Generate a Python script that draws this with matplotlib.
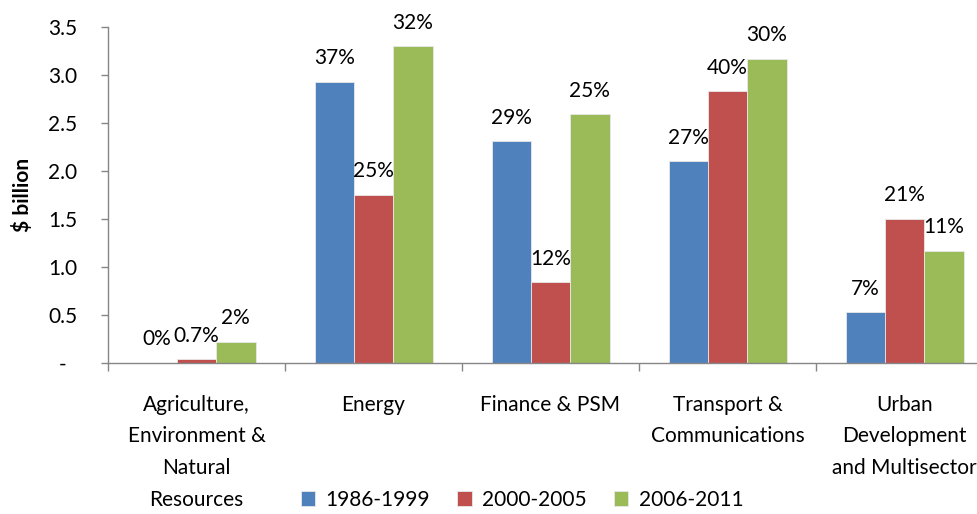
import matplotlib.pyplot as plt
import numpy as np

plt.rcParams['font.family'] = ['Lato', 'DejaVu Sans']

categories = ['Agriculture,\nEnvironment &\nNatural\nResources', 'Energy',
              'Finance & PSM', 'Transport &\nCommunications',
              'Urban\nDevelopment\nand Multisector']
series = ['1986-1999', '2000-2005', '2006-2011']
v_1986 = [0.0, 2.93, 2.31, 2.10, 0.53]
v_2000 = [0.04, 1.75, 0.84, 2.83, 1.50]
v_2006 = [0.22, 3.30, 2.59, 3.17, 1.17]
pct_1986 = ['0%', '37%', '29%', '27%', '7%']
pct_2000 = ['0.7%', '25%', '12%', '40%', '21%']
pct_2006 = ['2%', '32%', '25%', '30%', '11%']

colors = ['#4F81BD', '#C0504D', '#9BBB59']
fs = 15

fig = plt.figure(figsize=(9.77, 5.14), dpi=100)
W, H = 977, 514
ax = fig.add_axes([108 / W, (H - 363) / H, (993 - 108) / W, (363 - 27) / H])

x = np.arange(len(categories))
w = 1 / 4.5
for i, (vals, pcts) in enumerate(zip([v_1986, v_2000, v_2006],
                                     [pct_1986, pct_2000, pct_2006])):
    xs = x + (i - 1) * w
    ax.bar(xs, vals, width=w, color=colors[i], edgecolor='#e8e8e8',
           linewidth=0.6, label=series[i])
    for xi, v, p in zip(xs, vals, pcts):
        ax.annotate(p, (xi, v), xytext=(0, 17), textcoords='offset points',
                    ha='center', va='center', fontsize=fs)

ax.set_xlim(-0.5, 4.5)
ax.set_ylim(0, 3.5)
yt = [0, 0.5, 1.0, 1.5, 2.0, 2.5, 3.0, 3.5]
ax.set_yticks(yt)
ax.set_yticklabels(['-  '] + ['%.1f' % t for t in yt[1:]], fontsize=fs)
ax.set_xticks(x)
ax.set_xticklabels(categories, fontsize=fs, linespacing=1.72)
ax.set_xticks(np.arange(-0.5, 5, 1), minor=True)
ax.tick_params(axis='x', which='major', length=0, pad=23)
ax.tick_params(axis='x', which='minor', length=6, color='#868686', width=1)
ax.tick_params(axis='y', length=5, color='#868686', width=1, pad=17)

for s in ['top', 'right']:
    ax.spines[s].set_visible(False)
for s in ['left', 'bottom']:
    ax.spines[s].set_color('#868686')
    ax.spines[s].set_linewidth(1)

ax.set_ylabel('$ billion', fontsize=fs, fontweight='bold')
ax.yaxis.set_label_coords(-0.085, 0.5)

fig.legend(loc='center', bbox_to_anchor=(522 / W, 1 - 500 / H), ncol=3,
           frameon=False, fontsize=fs, handlelength=0.7, handleheight=0.7,
           handletextpad=0.5, columnspacing=1.3)

fig.savefig('out.png', dpi=100)
